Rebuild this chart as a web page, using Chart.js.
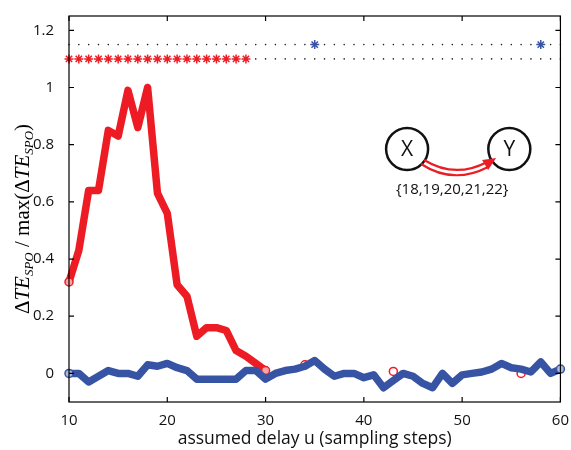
<!DOCTYPE html>
<html>
<head>
<meta charset="utf-8">
<script src="https://cdn.jsdelivr.net/npm/chart.js@4"></script>
<style>
  html, body { margin: 0; padding: 0; background: #fff; }
  #wrap { width: 571px; height: 450px; }
</style>
</head>
<body>
<div id="wrap"><canvas id="te-chart"></canvas></div>
<script>
// assumed delays (sampling steps)
const delays = [10,11,12,13,14,15,16,17,18,19,20,21,22,23,24,25,26,27,28,29,30,
  31,32,33,34,35,36,37,38,39,40,41,42,43,44,45,46,47,48,49,50,
  51,52,53,54,55,56,57,58,59,60];

// normalised dTE, X -> Y direction (red), delays 10..30
const redDelays = [10,11,12,13,14,15,16,17,18,19,20,21,22,23,24,25,26,27,28,29,30];
const redValues = [0.32,0.43,0.64,0.64,0.85,0.83,0.99,0.86,1.0,0.63,0.56,
  0.31,0.27,0.13,0.16,0.16,0.15,0.08,0.06,0.035,0.01];

// isolated red points further out
const redDotDelays = [34,43,56];
const redDotValues = [0.03,0.007,0.0];

// normalised dTE, Y -> X direction (blue), delays 10..60
const blueValues = [0,0,-0.03,-0.01,0.01,0,0,-0.01,0.03,0.025,0.035,
  0.02,0.01,-0.02,-0.02,-0.02,-0.02,-0.02,0.01,0.01,-0.02,
  0,0.01,0.015,0.025,0.045,0.015,-0.01,0,0,-0.015,
  -0.005,-0.05,-0.025,0,-0.01,-0.035,-0.05,0,-0.035,-0.005,
  0,0.005,0.015,0.035,0.02,0.015,0.005,0.04,0,0.015];

// significance markers
const redStarDelays = [10,11,12,13,14,15,16,17,18,19,20,21,22,23,24,25,26,27,28];
const blueStarDelays = [35,58];
const redStarLevel = 1.1;
const blueStarLevel = 1.15;

const xTicks = [10,20,30,40,50,60];
const yTicks = [0,0.2,0.4,0.6,0.8,1,1.2];

// inset graph
const nodeX = [44.4, 54.8];
const nodeY = 0.785;
const delayLabel = '{18,19,20,21,22}';

const red = 'rgb(237,28,36)';
const blue = 'rgb(55,84,164)';

const redLine = redDelays.map(function(d, i){ return {x: d, y: redValues[i]}; });
const redDots = redDotDelays.map(function(d, i){ return {x: d, y: redDotValues[i]}; });
const blueLine = delays.map(function(d, i){ return {x: d, y: blueValues[i]}; });
const redStars = redStarDelays.map(function(d){ return {x: d, y: redStarLevel}; });
const blueStars = blueStarDelays.map(function(d){ return {x: d, y: blueStarLevel}; });
const topDots = delays.filter(function(d){ return blueStarDelays.indexOf(d) < 0; })
  .map(function(d){ return {x: d, y: blueStarLevel}; });
const lowDots = delays.filter(function(d){ return redStarDelays.indexOf(d) < 0; })
  .map(function(d){ return {x: d, y: redStarLevel}; });

const lastIdx = delays.length - 1;

const framePlugin = {
  id: 'frame',
  afterDatasetsDraw(chart) {
    const ctx = chart.ctx;
    const a = chart.chartArea;
    const xs = chart.scales.x, ys = chart.scales.y;
    ctx.save();
    ctx.strokeStyle = '#000';
    ctx.lineWidth = 1.2;
    ctx.strokeRect(a.left, a.top, a.right - a.left, a.bottom - a.top);
    ctx.beginPath();
    xTicks.forEach(function(v){
      const px = xs.getPixelForValue(v);
      ctx.moveTo(px, a.bottom); ctx.lineTo(px, a.bottom - 5);
      ctx.moveTo(px, a.top); ctx.lineTo(px, a.top + 5);
    });
    yTicks.forEach(function(v){
      const py = ys.getPixelForValue(v);
      ctx.moveTo(a.left, py); ctx.lineTo(a.left + 5, py);
      ctx.moveTo(a.right, py); ctx.lineTo(a.right - 5, py);
    });
    ctx.stroke();

    // y axis title, drawn piecewise for the subscripts
    const big = 'italic 21px "Liberation Serif"';
    const up = '21px "Liberation Serif"';
    const sub = 'italic 13px "Liberation Serif"';
    const parts = [
      {t: 'Δ', f: up}, {t: 'TE', f: big}, {t: 'SPO', f: sub, s: 1},
      {t: ' / ', f: up}, {t: 'max(', f: up}, {t: 'Δ', f: up},
      {t: 'TE', f: big}, {t: 'SPO', f: sub, s: 1}, {t: ')', f: up}
    ];
    let total = 0;
    parts.forEach(function(p){ ctx.font = p.f; p.w = ctx.measureText(p.t).width; total += p.w; });
    ctx.translate(22, (a.top + a.bottom) / 2 + 10);
    ctx.rotate(-Math.PI / 2);
    ctx.fillStyle = '#000';
    ctx.textBaseline = 'alphabetic';
    let cx = -total / 2;
    parts.forEach(function(p){
      ctx.font = p.f;
      ctx.fillText(p.t, cx, p.s ? 11 : 7);
      cx += p.w;
    });
    ctx.restore();

    // inset: X -> Y with delay set
    ctx.save();
    const x1 = xs.getPixelForValue(nodeX[0]);
    const x2 = xs.getPixelForValue(nodeX[1]);
    const ny = ys.getPixelForValue(nodeY);
    const r = 21;
    ctx.lineWidth = 2.5;
    ctx.strokeStyle = '#111';
    [x1, x2].forEach(function(px){
      ctx.beginPath(); ctx.arc(px, ny, r, 0, Math.PI * 2); ctx.stroke();
    });
    ctx.fillStyle = '#111';
    ctx.font = '21px "Open Sans"';
    ctx.textAlign = 'center';
    ctx.textBaseline = 'middle';
    ctx.fillText('X', x1, ny + 1);
    ctx.fillText('Y', x2, ny + 1);
    ctx.font = '15px "Open Sans"';
    ctx.fillText(delayLabel, (x1 + x2) / 2 - 6, ny + 41);

    ctx.strokeStyle = red;
    ctx.fillStyle = red;
    ctx.lineWidth = 2.2;
    ctx.beginPath();
    ctx.moveTo(x1 + 17, ny + 11);
    ctx.quadraticCurveTo(x1 + 48, ny + 30, x1 + 80, ny + 13);
    ctx.moveTo(x1 + 14, ny + 15);
    ctx.quadraticCurveTo(x1 + 46, ny + 36, x1 + 81, ny + 18);
    ctx.stroke();
    ctx.beginPath();
    ctx.moveTo(x1 + 89, ny + 9);
    ctx.lineTo(x1 + 75, ny + 11);
    ctx.lineTo(x1 + 81, ny + 21);
    ctx.closePath();
    ctx.fill();
    ctx.restore();
  }
};

const data = {
  datasets: [
    {
      data: blueLine,
      borderColor: blue,
      borderWidth: 7.5,
      pointStyle: 'circle',
      pointRadius: delays.map(function(d, i){ return (i === 0 || i === lastIdx) ? 4 : 0; }),
      pointBorderColor: blue,
      pointBackgroundColor: 'rgba(255,255,255,0.6)',
      pointBorderWidth: 1.5,
      showLine: true,
      order: 1,
      clip: false
    },
    {
      data: redDots,
      borderColor: red,
      pointStyle: 'circle',
      pointRadius: 4,
      pointBorderColor: red,
      pointBackgroundColor: 'rgba(255,255,255,0.6)',
      pointBorderWidth: 1.5,
      showLine: false,
      order: 2,
      clip: false
    },
    {
      data: redLine,
      borderColor: red,
      borderWidth: 7.5,
      pointStyle: 'circle',
      pointRadius: redDelays.map(function(d, i){ return (i === 0 || i === redDelays.length - 1) ? 4 : 0; }),
      pointBorderColor: red,
      pointBackgroundColor: 'rgba(255,255,255,0.6)',
      pointBorderWidth: 1.5,
      showLine: true,
      order: 3,
      clip: false
    },
    {
      data: redStars,
      pointStyle: 'star',
      pointRadius: 4.5,
      pointBorderColor: red,
      pointBorderWidth: 1.5,
      showLine: false,
      order: 4,
      clip: false
    },
    {
      data: blueStars,
      pointStyle: 'star',
      pointRadius: 4.5,
      pointBorderColor: blue,
      pointBorderWidth: 1.5,
      showLine: false,
      order: 4,
      clip: false
    },
    {
      data: topDots.concat(lowDots),
      pointStyle: 'circle',
      pointRadius: 0.8,
      pointBorderWidth: 0,
      pointBackgroundColor: '#222',
      showLine: false,
      order: 5,
      clip: false
    }
  ]
};

const config = {
  type: 'scatter',
  data: data,
  options: {
    responsive: false,
    animation: false,
    layout: { padding: { left: 0, right: 8, top: 13, bottom: 0 } },
    plugins: {
      legend: { display: false },
      tooltip: { enabled: false }
    },
    elements: { line: { tension: 0, borderJoinStyle: 'round', borderCapStyle: 'round' } },
    scales: {
      x: {
        type: 'linear',
        min: 10,
        max: 60,
        grid: { display: false },
        border: { display: false },
        afterBuildTicks: function(s){ s.ticks = xTicks.map(function(v){ return {value: v}; }); },
        afterFit: function(s){ s.height = 48; },
        ticks: { color: '#111', font: { family: 'Open Sans', size: 15 }, padding: 2 },
        title: {
          display: true,
          text: 'assumed delay u (sampling steps)',
          color: '#111',
          font: { family: 'Open Sans', size: 17.5 },
          padding: { top: 0, bottom: 0 }
        }
      },
      y: {
        min: -0.1,
        max: 1.25,
        grid: { display: false },
        border: { display: false },
        afterBuildTicks: function(s){ s.ticks = yTicks.map(function(v){ return {value: v}; }); },
        afterFit: function(s){ s.width = 69; },
        ticks: {
          color: '#111',
          font: { family: 'Open Sans', size: 15 },
          padding: 7,
          callback: function(v){ return String(v); }
        }
      }
    }
  },
  plugins: [framePlugin]
};

const canvas = document.getElementById('te-chart');
canvas.width = 571;
canvas.height = 450;
const myChart = new Chart(canvas, config);
</script>
</body>
</html>
